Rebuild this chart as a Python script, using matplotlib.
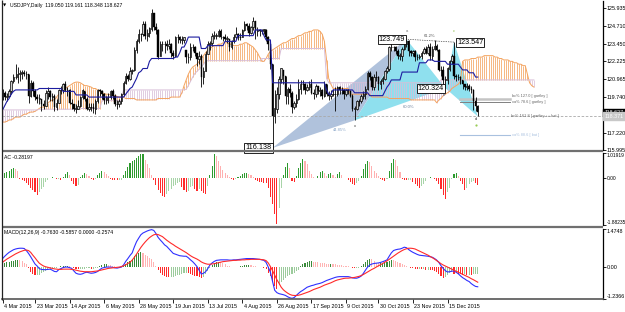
import numpy as np
import matplotlib
matplotlib.use("Agg")
import matplotlib.pyplot as plt
from matplotlib.transforms import blended_transform_factory, ScaledTranslation


# daily bars, 2 Mar 2015 .. 6 Jan 2016 (index = bar number)
closes=[
    120.0,119.7,119.8,120.1,120.8,121.1,121.1,121.3,121.4,121.4,
    121.3,121.3,119.8,120.7,120.1,119.7,119.6,119.6,119.2,119.1,
    120.0,120.1,119.7,119.8,119.0,119.3,120.2,120.2,120.6,120.2,
    120.2,119.3,119.2,118.9,118.9,119.1,119.7,120.2,119.6,118.9,
    119.0,119.0,118.9,119.4,120.2,120.1,119.9,119.5,119.7,119.7,
    120.1,119.8,119.2,119.2,119.4,119.9,120.7,121.2,120.95,121.5,
    121.6,123.0,123.6,124.1,124.1,124.8,124.0,124.2,124.5,125.6,
    124.6,124.4,122.5,123.4,123.4,123.4,123.3,123.4,122.8,122.6,
    123.9,123.9,123.7,123.7,123.9,122.5,122.5,123.2,123.2,122.8,
    122.4,122.6,121.1,121.5,122.7,123.4,123.5,124.0,124.0,124.0,
    124.3,123.9,123.9,123.8,123.8,123.2,123.6,123.9,124.1,123.9,
    123.9,124.4,124.8,124.7,124.2,124.6,125.0,124.3,124.4,124.3,
    124.4,124.4,123.9,123.4,122.0,118.4,118.9,119.9,121.0,121.7,
    121.2,119.8,120.3,120.0,119.0,119.3,119.6,120.3,120.6,120.6,
    120.2,120.4,120.6,120.0,119.9,120.5,120.1,120.2,119.8,120.6,
    119.9,119.8,119.9,119.9,119.9,120.4,120.2,120.2,119.9,120.2,
    120.1,119.8,118.9,118.9,119.4,119.4,119.8,119.9,120.3,121.4,
    121.1,120.4,121.1,121.1,120.6,120.8,121.0,121.5,121.7,123.2,
    123.2,123.2,122.9,122.6,122.6,123.1,123.4,123.6,122.9,122.8,
    122.9,122.5,122.5,122.6,122.8,123.1,122.8,123.2,122.6,123.1,
    123.3,123.0,121.6,121.6,120.9,120.9,121.7,122.2,122.6,121.2,
    121.1,121.1,120.9,120.6,120.4,120.5,120.3,120.2,119.4,119.1,
    118.627
]

highs=[
    120.3,120.1,120.0,120.3,120.9,121.3,122.0,121.8,121.6,121.6,
    121.6,121.5,121.3,120.9,120.8,120.3,119.9,119.9,119.6,119.5,
    120.2,120.4,120.2,120.0,119.9,119.6,120.3,120.5,120.7,120.8,
    120.4,120.3,119.6,119.2,119.2,119.5,119.8,120.3,120.1,119.7,
    119.3,119.3,119.3,119.6,120.3,120.3,120.2,120.0,119.8,120.0,
    120.2,120.3,119.9,119.5,119.6,120.0,120.8,121.4,121.3,121.8,
    121.7,123.2,123.8,124.5,124.2,125.0,125.0,124.5,124.6,125.86,
    125.6,124.9,124.5,123.6,123.6,123.6,123.7,123.8,123.5,123.0,
    124.0,124.1,124.0,124.0,123.9,123.0,122.8,123.5,123.4,123.3,
    122.8,122.9,122.7,121.8,122.9,123.6,123.6,124.2,124.3,124.2,
    124.5,124.5,124.0,124.1,124.0,123.8,123.7,124.1,124.6,124.2,
    124.2,124.5,125.0,124.9,124.9,124.7,125.28,125.0,124.6,124.5,
    124.5,124.5,124.5,124.0,123.5,122.0,120.2,120.4,121.2,121.75,
    121.6,121.2,120.4,120.6,120.1,119.4,119.9,121.0,120.9,120.9,
    120.7,120.6,120.8,121.0,120.3,120.6,120.5,120.4,120.3,120.8,
    120.6,120.1,120.2,120.3,120.4,120.5,120.5,120.4,120.3,120.3,
    120.3,120.2,119.9,119.1,119.5,119.6,119.9,120.1,120.5,121.5,
    121.5,121.2,121.3,121.5,121.2,121.0,121.2,121.6,121.9,123.3,
    123.6,123.3,123.3,123.1,122.8,123.2,123.5,123.75,123.7,123.0,
    123.0,123.0,122.7,122.7,122.9,123.2,123.3,123.4,123.5,123.3,
    123.7,123.4,123.1,121.9,121.9,121.2,121.8,122.3,122.7,123.547,
    121.3,121.3,121.2,120.9,120.6,120.7,120.6,120.5,120.3,119.7,
    119.161
]

lows=[
    119.5,119.5,119.4,119.7,119.9,120.7,121.0,120.7,120.8,121.0,
    121.2,121.0,119.3,119.7,119.8,119.5,119.3,119.2,118.7,118.9,
    119.1,119.6,119.4,119.4,118.7,118.8,119.3,119.9,120.0,120.1,
    119.8,119.2,118.9,118.7,118.6,118.9,119.0,119.6,119.4,118.8,
    118.7,118.7,118.6,118.5,119.3,119.8,119.6,119.2,119.2,119.3,
    119.6,119.6,119.1,118.9,119.0,119.2,119.8,120.6,120.8,120.9,
    121.3,121.5,122.8,123.5,123.6,124.0,123.8,123.6,123.9,124.3,
    124.4,124.1,122.4,122.6,122.9,122.8,123.0,123.1,122.5,122.4,
    122.5,123.5,123.5,123.4,123.5,122.1,122.1,122.3,122.9,122.6,
    121.9,122.0,120.4,120.6,121.5,122.7,123.0,123.3,123.8,123.8,
    123.9,123.8,123.6,123.6,123.5,122.9,123.1,123.5,123.8,123.7,
    123.7,123.9,124.3,124.4,124.0,124.1,124.4,123.8,124.0,124.0,
    124.1,124.1,123.6,123.0,121.7,116.138,117.9,118.6,119.6,120.7,
    120.6,119.2,119.2,119.7,118.6,118.9,119.0,119.5,119.9,120.2,
    119.9,120.1,120.2,119.9,119.6,119.7,119.9,119.8,119.6,119.7,
    119.8,119.5,119.6,119.8,118.7,119.8,119.9,119.9,119.6,119.8,
    119.9,119.7,118.7,118.07,118.8,119.1,119.3,119.6,119.6,120.2,
    120.9,120.2,120.2,120.8,120.2,120.3,120.6,120.9,121.4,121.5,
    122.9,122.9,122.7,122.4,122.3,122.2,123.0,123.2,122.6,122.6,
    122.6,122.2,122.3,122.4,122.4,122.7,122.7,122.7,122.3,122.3,
    123.0,122.9,121.5,121.2,120.6,120.324,120.6,121.5,122.0,121.0,
    120.8,120.9,120.6,120.3,120.2,120.2,120.1,120.0,118.8,118.7,
    118.348
]

first_open=119.6

kijun=[
    118.8,119.1,119.4,119.6,119.9,120.1,120.2,120.2,120.2,120.2,
    120.2,120.2,120.2,120.2,120.2,120.2,120.2,120.3,120.3,120.3,
    120.3,120.3,120.3,120.3,120.3,120.3,120.3,120.3,120.1,120.1,
    120.1,120.1,120.1,120.1,119.85,119.85,119.85,119.85,119.85,119.85,
    119.7,119.7,119.7,119.7,119.7,119.7,119.7,119.7,119.7,119.7,
    119.7,119.7,119.7,119.7,119.7,119.7,119.7,119.9,120.1,120.3,
    120.4,120.7,121.0,121.4,121.5,121.7,121.7,121.7,122.2,122.4,
    122.4,122.4,122.4,122.4,122.4,122.4,122.4,122.4,122.4,122.4,
    122.5,122.5,122.8,123.2,123.2,123.5,123.9,123.9,123.9,123.9,
    123.9,123.9,123.1,123.1,123.1,123.3,123.3,123.3,123.3,123.3,
    123.3,123.3,123.3,123.6,123.6,123.6,123.6,123.6,123.6,124.0,
    124.0,124.0,124.0,124.0,124.0,124.0,124.0,124.4,124.4,124.4,
    124.4,124.0,123.7,123.7,123.7,120.7,120.7,120.7,120.7,120.7,
    120.7,120.7,120.7,120.7,120.7,120.7,120.7,120.7,120.7,120.7,
    120.7,120.7,120.7,120.7,120.7,120.7,120.7,120.7,120.7,120.7,
    120.2,119.9,119.9,120.2,120.2,120.2,120.2,120.2,120.2,120.2,
    120.2,120.2,120.2,120.0,120.0,120.0,120.0,120.0,120.0,120.0,
    119.8,119.8,119.8,119.8,119.8,119.8,119.8,120.1,120.4,120.6,
    120.9,120.9,120.9,120.9,120.9,121.45,121.45,121.45,121.45,121.45,
    121.45,121.45,121.45,122.1,122.1,122.1,122.1,122.3,122.3,122.3,
    122.2,122.2,122.2,122.2,122.2,122.2,122.0,122.0,122.0,122.0,
    122.0,122.0,121.8,121.6,121.6,121.6,121.4,121.4,121.4,121.1,
    121.1
]

# senkou spans, shifted 26 bars ahead (247 values)
span_a=(
    [117.95,117.95,118.0,118.1,118.1,118.2,118.3,118.3,118.3,118.4,
     118.5,118.5,118.6,118.65,118.65,118.7,118.8]
    +[118.9,119.0,119.0,119.1,119.3,119.4,119.5,119.5,119.7,119.9,
      120.1,120.3,120.3,120.4,120.5,120.6,120.7,120.75,120.75,120.7]
    +[120.6,120.5,120.5,120.45,120.4,120.3,120.3,120.2,120.1]
    +[120.0,119.95,119.9,119.9,119.85,119.8,119.8,119.75,119.7,119.7,119.7]
    +[119.6]*5+[119.5]*10+[119.6]*6+[119.7]*5
    +[120.0,120.5,120.9,121.3,121.6,121.8,121.9,122.0,122.2,122.4,122.6,122.8,123.0]
    +[123.1,123.2,123.3,123.3,123.4,123.4,123.5,123.5,123.5,123.4,123.4,123.3,
      123.3,123.3,123.4,123.4,123.5,123.5,123.4,123.3,123.2,123.0,122.8]
    +[122.5,122.2,122.2,122.4,122.7]
    +[122.9,123.0,123.1,123.2,123.3]
    +[123.4,123.5,123.5,123.6,123.7,123.8,123.8,123.9,124.0,124.0,
      124.1,124.2,124.2,124.3,124.3,124.4,124.4,124.4,124.3]
    +[124.1,123.6,122.3,121.0,120.6]
    +[120.3]*8+[119.9]*10+[119.7]*8+[119.6]*10+[119.5]*12
    +[119.3,119.5]
    +[119.6,119.8,119.9,120.0,120.1,120.3,120.4,120.5,120.6,120.8]
    +[122.2,122.3,122.3,122.3,122.4,122.4,122.4,122.5,122.5,122.5,
      122.6,122.6,122.6,122.6]
    +[122.6,122.5,122.5,122.4,122.4,122.3,122.3,122.3,122.2,122.2,
      122.1,122.1,122.0,122.0,121.9,121.9]
    +[121.3,120.7,120.5,120.4]
)

span_b=(
    [118.8]*17+[118.85]*19+[118.9]*10+[119.45]*10+[120.2]*29
    +[120.25,120.5,120.8,121.1,121.35,121.5,121.65,121.8,122.0,122.2]
    +[122.25]*25+[122.4]*9+[123.1]*21+[121.0]+[120.7]*52+[120.9]*44
)

ac=[
    0.18,0.22,0.25,0.30,0.36,0.43,0.38,0.30,-0.02,-0.06,
    -0.10,-0.18,-0.28,-0.38,-0.46,-0.54,-0.66,-0.55,-0.45,-0.34,
    -0.15,-0.08,0.03,0.06,0.02,-0.03,-0.02,-0.06,0.05,0.18,
    0.24,0.12,-0.10,-0.22,-0.30,-0.26,0.04,0.14,0.22,0.18,
    0.10,-0.02,-0.05,-0.01,0.12,0.22,0.28,0.24,0.18,0.10,
    -0.03,-0.05,-0.06,-0.08,-0.06,-0.05,0.14,0.28,0.46,0.62,
    0.70,0.74,0.80,0.90,0.96,0.97,0.74,0.56,0.40,0.14,
    -0.08,-0.26,-0.46,-0.60,-0.70,-0.76,-0.64,-0.52,-0.42,-0.32,
    -0.26,-0.20,-0.14,-0.34,-0.48,-0.54,-0.52,-0.36,-0.30,-0.42,
    -0.50,-0.44,-0.52,-0.60,-0.64,-0.30,0.14,0.50,0.97,0.90,
    0.70,0.50,0.34,0.22,0.12,0.04,-0.04,-0.08,-0.02,0.04,
    0.10,0.16,0.20,0.22,0.18,0.14,0.06,-0.06,-0.10,-0.14,
    -0.16,-0.18,-0.20,-0.40,-0.75,-1.05,-1.45,-1.84,-1.18,-0.40,
    0.15,0.45,0.61,0.40,-0.10,-0.16,0.08,0.40,0.62,0.76,
    0.70,0.58,0.30,0.18,0.06,0.02,0.10,0.24,0.28,0.22,
    0.10,0.18,0.22,0.14,0.06,0.18,0.24,0.12,0.02,0.0,
    -0.06,-0.14,-0.22,-0.26,-0.20,-0.10,0.10,0.36,0.56,0.70,
    0.66,0.48,0.30,0.22,0.10,-0.04,-0.08,-0.10,-0.02,0.30,
    0.62,0.76,0.74,0.50,0.26,-0.04,-0.06,-0.08,-0.08,-0.06,
    -0.14,-0.22,-0.32,-0.38,-0.30,-0.22,-0.10,0.02,0.04,0.02,
    -0.04,-0.10,-0.24,-0.44,-0.66,-0.82,-0.56,-0.40,-0.04,0.16,
    0.20,0.08,-0.10,-0.22,-0.47,-0.38,-0.22,-0.14,-0.10,-0.20,
    -0.28197
]

macd_main=[
    0.33,0.42,0.50,0.57,0.62,0.67,0.70,0.72,0.73,0.73,
    0.72,0.64,0.53,0.40,0.26,0.12,0.04,-0.06,-0.09,-0.10,
    -0.10,-0.09,-0.08,-0.12,-0.17,-0.18,-0.10,-0.06,-0.02,0.0,
    0.0,-0.02,-0.05,-0.15,-0.24,-0.27,-0.28,-0.26,-0.22,-0.20,
    -0.22,-0.24,-0.23,-0.21,-0.17,-0.10,-0.04,-0.02,0.0,0.0,
    0.0,-0.01,-0.03,-0.04,-0.02,0.0,0.08,0.22,0.33,0.45,
    0.55,0.78,0.98,1.12,1.25,1.32,1.36,1.40,1.43,1.45,
    1.42,1.30,1.15,1.05,0.96,0.86,0.80,0.71,0.62,0.53,
    0.50,0.47,0.44,0.43,0.42,0.42,0.36,0.28,0.21,0.12,
    0.02,-0.12,-0.27,-0.24,-0.18,-0.06,0.08,0.16,0.22,0.26,
    0.27,0.28,0.28,0.28,0.28,0.27,0.27,0.28,0.28,0.29,
    0.30,0.31,0.32,0.33,0.33,0.33,0.33,0.32,0.31,0.30,
    0.28,0.26,0.18,0.0,-0.20,-0.56,-0.90,-0.99,-1.03,-1.05,
    -1.07,-1.10,-1.15,-1.19,-1.21,-1.18,-1.10,-1.02,-0.95,-0.90,
    -0.84,-0.78,-0.75,-0.72,-0.70,-0.67,-0.65,-0.63,-0.60,-0.56,
    -0.52,-0.49,-0.46,-0.43,-0.40,-0.38,-0.37,-0.37,-0.37,-0.37,
    -0.37,-0.39,-0.42,-0.43,-0.43,-0.40,-0.35,-0.25,-0.12,0.0,
    0.08,0.12,0.14,0.15,0.16,0.18,0.21,0.24,0.28,0.42,
    0.55,0.64,0.67,0.69,0.70,0.73,0.77,0.75,0.68,0.62,
    0.57,0.53,0.49,0.46,0.45,0.44,0.43,0.42,0.40,0.38,
    0.33,0.27,0.18,0.05,-0.05,-0.14,-0.19,-0.18,-0.16,-0.15,
    -0.20,-0.26,-0.34,-0.41,-0.46,-0.52,-0.56,-0.64,-0.70,-0.75,
    -0.7630
]

macd_signal=[
    0.19,0.25,0.31,0.36,0.41,0.46,0.51,0.55,0.59,0.62,
    0.65,0.66,0.64,0.57,0.46,0.36,0.25,0.15,0.09,0.04,
    0.01,-0.01,-0.03,-0.05,-0.07,-0.08,-0.09,-0.09,-0.08,-0.08,
    -0.08,-0.08,-0.09,-0.10,-0.12,-0.14,-0.16,-0.17,-0.18,-0.18,
    -0.18,-0.18,-0.17,-0.16,-0.15,-0.13,-0.11,-0.09,-0.07,-0.05,
    -0.04,-0.03,-0.02,-0.01,0.0,0.02,0.05,0.09,0.14,0.19,
    0.27,0.38,0.50,0.63,0.76,0.87,0.97,1.06,1.14,1.20,
    1.25,1.27,1.26,1.22,1.18,1.11,1.04,0.98,0.92,0.87,
    0.81,0.76,0.71,0.66,0.61,0.56,0.50,0.44,0.39,0.35,
    0.31,0.26,0.20,0.16,0.13,0.11,0.11,0.12,0.13,0.15,
    0.17,0.19,0.21,0.22,0.23,0.24,0.25,0.26,0.26,0.27,
    0.27,0.28,0.28,0.29,0.29,0.30,0.30,0.30,0.30,0.30,
    0.29,0.28,0.25,0.16,0.02,-0.14,-0.32,-0.49,-0.63,-0.78,
    -0.88,-0.95,-1.01,-1.06,-1.09,-1.10,-1.10,-1.09,-1.07,-1.04,
    -1.01,-0.98,-0.95,-0.91,-0.87,-0.84,-0.81,-0.78,-0.74,-0.70,
    -0.67,-0.64,-0.61,-0.57,-0.53,-0.50,-0.48,-0.46,-0.44,-0.43,
    -0.43,-0.42,-0.41,-0.40,-0.38,-0.36,-0.33,-0.29,-0.24,-0.19,
    -0.14,-0.09,-0.05,0.0,0.05,0.09,0.14,0.19,0.24,0.30,
    0.36,0.42,0.48,0.54,0.59,0.64,0.68,0.71,0.73,0.73,
    0.72,0.70,0.66,0.62,0.58,0.54,0.50,0.46,0.41,0.36,
    0.31,0.25,0.19,0.13,0.08,0.04,0.0,-0.04,-0.08,-0.12,
    -0.16,-0.20,-0.24,-0.28,-0.32,-0.36,-0.40,-0.45,-0.49,-0.54,
    -0.5857
]

macd_hist=[
    0.14,0.17,0.19,0.21,0.23,0.25,0.27,0.28,0.26,0.22,
    0.17,0.12,-0.05,-0.20,-0.28,-0.31,-0.31,-0.29,-0.24,-0.18,
    -0.14,-0.09,-0.06,-0.04,-0.03,-0.02,0.02,0.03,0.05,0.06,
    0.06,0.04,0.02,-0.03,-0.06,-0.08,-0.08,-0.07,-0.06,-0.05,
    -0.05,-0.06,-0.06,-0.05,-0.03,0.03,0.08,0.10,0.10,0.09,
    0.08,0.06,0.03,0.01,-0.01,0.0,0.05,0.13,0.18,0.25,
    0.30,0.42,0.50,0.55,0.57,0.53,0.46,0.42,0.37,0.30,
    0.20,0.05,-0.12,-0.22,-0.30,-0.36,-0.39,-0.40,-0.39,-0.37,
    -0.33,-0.31,-0.29,-0.27,-0.24,-0.23,-0.24,-0.27,-0.30,-0.33,
    -0.36,-0.40,-0.43,-0.38,-0.28,-0.15,-0.02,0.08,0.14,0.19,
    0.21,0.20,0.16,0.10,0.06,0.04,0.02,0.02,0.02,0.02,
    0.03,0.05,0.07,0.08,0.09,0.08,0.06,0.04,0.02,0.0,
    -0.01,-0.02,-0.08,-0.22,-0.35,-0.55,-0.72,-0.85,-0.70,-0.58,
    -0.50,-0.42,-0.36,-0.32,-0.28,-0.22,-0.15,-0.10,0.05,0.12,
    0.17,0.20,0.22,0.22,0.21,0.20,0.18,0.17,0.15,0.14,
    0.13,0.12,0.12,0.11,0.10,0.09,0.08,0.07,0.06,0.05,
    0.04,0.02,-0.02,-0.04,-0.04,-0.02,0.05,0.12,0.20,0.27,
    0.32,0.30,0.24,0.17,0.14,0.14,0.16,0.18,0.20,0.24,
    0.28,0.26,0.22,0.18,0.15,0.12,0.09,0.06,0.02,-0.02,
    -0.05,-0.07,-0.08,-0.08,-0.09,-0.09,-0.10,-0.10,-0.11,-0.12,
    -0.14,-0.18,-0.26,-0.36,-0.42,-0.40,-0.32,-0.24,-0.18,-0.28,
    -0.22,-0.26,-0.28,-0.30,-0.27,-0.30,-0.29,-0.31,-0.28,-0.27,
    -0.2574
]

date_ticks=[0,15,31,47,63,79,95,111,127,143,159,174,190,206]
date_labels=[
    "4 Mar 2015","23 Mar 2015","14 Apr 2015","6 May 2015","28 May 2015",
    "19 Jun 2015","13 Jul 2015","4 Aug 2015","26 Aug 2015","17 Sep 2015",
    "9 Oct 2015","30 Oct 2015","23 Nov 2015","15 Dec 2015"
]

price_levels=[125.935,124.710,123.450,122.225,120.965,119.740,117.220,115.995]

# harmonic pattern points (bar, price)
p0=(125,116.138)
px=(163,118.07)
pa=(187,123.749)
pb=(205,120.324)
pc=(209,123.547)
pd=(220,118.35)

bid_price=118.627
line_price=118.371

W,H=625,312
FONT=["Liberation Sans","DejaVu Sans"]


def px_axes(fig,x0,y0,x1,y1):
    return fig.add_axes([x0/W,1-y1/H,(x1-x0)/W,(y1-y0)/H])


def fig_line(fig,x0,y0,x1,y1,color,lw):
    fig.add_artist(plt.Line2D(
        [x0/W,x1/W],[1-y0/H,1-y1/H],
        transform=fig.transFigure,color=color,lw=lw,solid_capstyle="butt"
    ))


def hist_colors(vals,up_pos,up_neg,dn_pos,dn_neg):
    cols=[]
    prev=vals[0]
    for v in vals:
        if v>=prev:
            cols.append(up_pos if v>=0 else up_neg)
        else:
            cols.append(dn_pos if v>=0 else dn_neg)
        prev=v
    return cols


def clean(ax):
    for s in ax.spines.values():
        s.set_visible(False)
    ax.set_xticks([])
    ax.set_yticks([])
    ax.set_xlim(-0.28,278)
    ax.patch.set_alpha(0)


def right_labels(ax,levels,labels,vas=None,size=3.9):
    ax.yaxis.tick_right()
    ax.set_yticks(levels)
    ax.set_yticklabels(labels)
    ax.tick_params(axis="y",length=2,width=0.6,pad=0.5,labelsize=size,colors="black")
    if vas:
        for t,va in zip(ax.get_yticklabels(),vas):
            t.set_va(va)
    ax.spines["right"].set_visible(True)
    ax.spines["right"].set_linewidth(0.9)


def main():

    plt.rcParams["font.family"]=FONT
    plt.rcParams["axes.unicode_minus"]=False

    fig=plt.figure(figsize=(W/100,H/100),dpi=100)
    fig.patch.set_facecolor("white")

    ax=px_axes(fig,2,1,603,150)
    ax_ac=px_axes(fig,2,153,603,225)
    ax_md=px_axes(fig,2,229,603,299)

    for a in (ax,ax_ac,ax_md):
        clean(a)

    n=len(closes)
    idx=np.arange(n)
    c=np.array(closes)
    h=np.array(highs)
    l=np.array(lows)
    o=np.clip(np.r_[first_open,c[:-1]],l,h)

    # ---- main window
    ax.set_ylim(115.995,126.425)

    ax.fill([p0[0],px[0],pa[0]],[p0[1],px[1],pa[1]],color="#b0c2dc",lw=0,zorder=1)
    ax.fill([px[0],pa[0],pb[0]],[px[1],pa[1],pb[1]],color="#8fe0ee",lw=0,zorder=1)
    ax.fill([pb[0],pc[0],pd[0]],[pb[1],pc[1],pd[1]],color="#8fe0ee",lw=0,zorder=1)

    sa=np.array(span_a)
    sb=np.array(span_b)
    cidx=np.arange(len(sa))
    up=sa>=sb
    ax.vlines(cidx[up],sb[up],sa[up],color="#f4a460",lw=0.55,zorder=2)
    ax.vlines(cidx[~up],sa[~up],sb[~up],color="#d8bfd8",lw=0.55,zorder=2)
    ax.plot(cidx,sa,color="#f4a460",lw=0.7,zorder=2)
    ax.plot(cidx,sb,color="#d8bfd8",lw=0.7,zorder=2)

    ax.axhline(line_price,color="#a8a8a8",lw=0.6,ls=(0,(3,2)),zorder=2)

    ax.plot(idx,kijun,color="#1c1ca0",lw=0.8,zorder=4)

    ax.vlines(idx,l,h,color="black",lw=0.6,zorder=3)
    down=c<o
    body_lo=np.minimum(o,c)
    body_h=np.maximum(np.abs(c-o),0.03)
    ax.bar(idx[down],body_h[down],bottom=body_lo[down],width=0.7,
           color="black",edgecolor="black",lw=0.3,zorder=3)
    ax.bar(idx[~down],body_h[~down],bottom=body_lo[~down],width=0.7,
           color="#cfcfcf",edgecolor="black",lw=0.5,zorder=3)

    # pattern dotted link
    ax.plot([pa[0],pc[0]],[pa[1],pc[1]],color="black",lw=0.5,ls=(0,(1,1.5)),zorder=5)

    box=dict(boxstyle="square,pad=0.15",fc="white",ec="black",lw=0.6)
    ax.text(p0[0]-0.4,p0[1],"116.138",fontsize=5.2,ha="right",va="center",bbox=box,zorder=6)
    ax.text(pa[0]-0.6,pa[1],"123.749",fontsize=5.2,ha="right",va="center",bbox=box,zorder=6)
    ax.text(pb[0]-0.6,pb[1],"120.324",fontsize=5.2,ha="right",va="center",bbox=box,zorder=6)
    ax.text(pc[0]+1.4,pc[1],"123.547",fontsize=5.2,ha="left",va="center",bbox=box,zorder=6)

    ax.text(156,117.4,"44.85%",fontsize=3.0,color="#8aa6c8",ha="center",va="center")
    ax.text(188,119.0,"60.0%",fontsize=3.0,color="#6a7f9a",ha="center",va="center")
    ax.text(197.5,124.0,"61.2%",fontsize=3.0,color="#555555",ha="center",va="center")

    ax.text(px[0],117.7,"x",fontsize=3.0,color="#333333",ha="center",va="center")
    ax.text(pa[0],124.35,"a",fontsize=3.0,color="#777777",ha="center",va="center")
    ax.text(pb[0]-0.5,119.85,"b",fontsize=3.0,color="#5570a0",ha="center",va="center")
    ax.text(pc[0],124.35,"c",fontsize=3.0,color="#88bb44",ha="center",va="center")
    ax.text(pd[0]-1,118.15,"d",fontsize=3.0,color="#333333",ha="center",va="center")
    ax.plot([pd[0]-1],[117.75],"o",ms=1.6,color="#99cc55",mec="none")

    ax.plot([212,235],[119.56,119.56],color="#c4c4c4",lw=1.8,zorder=2)
    ax.plot([212,235],[119.35,119.35],color="#808080",lw=0.7,zorder=2)
    ax.plot([212,235],[117.04,117.04],color="#a9c1df",lw=0.8,zorder=2)
    ax.text(236,119.77,"bc% 127.0 [ gartley ]",fontsize=2.8,color="#666666",va="center")
    ax.text(236,119.35,"xa% 78.6 [ gartley ]",fontsize=2.8,color="#666666",va="center")
    ax.text(235.5,118.37,"bc% 161.8 [ gartley ++ bat ]",fontsize=2.8,color="#666666",va="center")
    ax.text(236,117.04,"xa% 88.6 [ bat ]",fontsize=2.8,color="#a9c1df",va="center")

    right_labels(ax,price_levels,[f"{v:.3f}" for v in price_levels])

    tr=blended_transform_factory(ax.transAxes,ax.transData)
    ax.text(1.0025,bid_price,f"{bid_price:.3f}",transform=tr,fontsize=3.9,color="white",
            ha="left",va="center",bbox=dict(boxstyle="square,pad=0.2",fc="black",ec="black"),clip_on=False)
    ax.text(1.0025,line_price,f"{line_price:.3f}",transform=tr,fontsize=3.9,color="white",
            ha="left",va="center",bbox=dict(boxstyle="square,pad=0.2",fc="#c8c8c8",ec="#c8c8c8"),clip_on=False)

    # ---- AC window
    ax_ac.set_ylim(-1.88235,1.01919)
    ac_cols=hist_colors(ac,"#2e9a2e","#a8d4a8","#ffb0b0","#ff2a2a")
    ax_ac.bar(idx,ac,width=0.5,color=ac_cols,lw=0)
    right_labels(ax_ac,[1.01919,0.0,-1.88235],["1.01919","0.00","-1.88235"],
                 ["top","center","bottom"],size=3.5)

    # ---- MACD window
    ax_md.set_ylim(-1.2366,1.4748)
    md_cols=hist_colors(macd_hist,"#3a8a3a","#9ccb9c","#ffb4b4","#ff2a2a")
    ax_md.bar(idx,macd_hist,width=0.5,color=md_cols,lw=0)
    ax_md.plot(idx,macd_main,color="#3030ff",lw=0.8)
    ax_md.plot(idx,macd_signal,color="#ff2a2a",lw=0.8)
    right_labels(ax_md,[1.4748,0.0,-1.2366],["1.4748","0.00","-1.2366"],["top","center","bottom"])
    ax_md.spines["bottom"].set_visible(True)
    ax_md.spines["bottom"].set_linewidth(1.2)
    ax_md.spines["bottom"].set_color("#555555")

    ax_md.set_xticks(date_ticks)
    ax_md.set_xticklabels(date_labels)
    ax_md.tick_params(axis="x",length=3,width=0.6,pad=0.5,labelsize=3.9,colors="black")
    shift=ScaledTranslation(1.5/100,0,fig.dpi_scale_trans)
    for t in ax_md.get_xticklabels():
        t.set_ha("left")
        t.set_transform(t.get_transform()+shift)

    # ---- frame and separators
    fig_line(fig,2,151,603,151,"#707070",1.6)
    fig_line(fig,2,227,603,227,"#707070",1.6)
    fig_line(fig,2,0,2,300,"#222222",0.9)

    fig.text(3/W,1-5.5/H,"\u25bc",fontsize=3.0,color="black",va="center",family=["DejaVu Sans"])
    fig.text(10/W,1-5.5/H,"USDJPY,Daily  119.050 119.161 118.348 118.627",fontsize=3.7,va="center")
    fig.text(4/W,1-157.5/H,"AC -0.28197",fontsize=3.7,va="center")
    fig.text(4/W,1-232.5/H,"MACD(12,26,9) -0.7630 -0.5857 0.0000 -0.2574",fontsize=3.7,va="center")

    fig.savefig("out.png",dpi=100,facecolor="white")
    plt.close(fig)


if __name__=="__main__":
    main()
